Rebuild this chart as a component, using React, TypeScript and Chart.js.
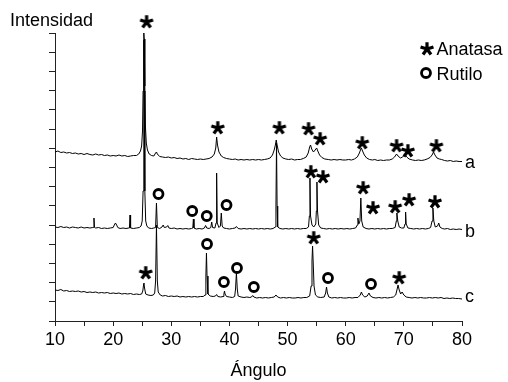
import { useEffect, useRef } from 'react';
import { Chart, registerables } from 'chart.js';

Chart.register(...registerables);

const FONT = '"Liberation Sans", Arial, Helvetica, sans-serif';

// Diffraction traces: [2θ (deg), intensity (a.u.)]
const traceA: [number, number][] = [
  [10, 169], [10.5, 170], [11, 168.5], [11.5, 169], [12, 168], [12.5, 168.5], [13, 167.5], [13.5, 168],
  [14, 167], [14.5, 167.5], [15, 166.5], [15.5, 167.5], [16, 166.5], [16.5, 166], [17, 167], [17.5, 166],
  [18, 166.5], [18.5, 165.5], [19, 166], [19.5, 165], [20, 165.5], [20.5, 165], [21, 166], [21.5, 165],
  [22, 165.5], [22.5, 164.5], [23, 165], [23.5, 165.5], [24, 165.5], [24.4, 167], [24.7, 170], [24.9, 175],
  [25.05, 190], [25.15, 230], [25.25, 280], [25.3, 288], [25.35, 282], [25.45, 235], [25.55, 195], [25.7, 178],
  [25.9, 171], [26.2, 167], [26.6, 165.5], [27.0, 165], [27.3, 168], [27.45, 169], [27.6, 167], [28.0, 164.5],
  [28.5, 164], [29, 163.5], [29.5, 164], [30, 163], [30.5, 163.5], [31, 162.5], [31.5, 163], [32, 162],
  [32.5, 162.5], [33, 161.5], [33.5, 162.5], [34, 162], [34.5, 161.5], [35, 162], [35.5, 161.5], [36, 162],
  [36.5, 162.5], [37.0, 164], [37.4, 167], [37.65, 173], [37.8, 184], [37.95, 176], [38.2, 169], [38.6, 165],
  [39.0, 163.5], [39.5, 162.5], [40, 162], [40.5, 161.5], [41, 162], [41.5, 161], [42, 161.5], [42.5, 161],
  [43, 161.5], [43.5, 161], [44, 161.5], [44.5, 161], [45, 161.5], [45.5, 161], [46, 161.5], [46.5, 162],
  [47, 163], [47.4, 166], [47.7, 171], [47.9, 176], [48.05, 181], [48.2, 176], [48.45, 169], [48.8, 165],
  [49.2, 163], [49.7, 162], [50.2, 161.5], [50.7, 162], [51.2, 161], [51.7, 161.5], [52.2, 161.5], [52.7, 162.5],
  [53.2, 164], [53.55, 168], [53.8, 174], [53.95, 176], [54.15, 172], [54.45, 169], [54.75, 171], [55.0, 173],
  [55.2, 170], [55.5, 166], [55.9, 163.5], [56.4, 162], [57, 161.5], [57.5, 161], [58, 161.5], [58.5, 161],
  [59, 161.5], [59.5, 161], [60, 161], [60.5, 161.5], [61, 161], [61.5, 162], [62.0, 164], [62.35, 168],
  [62.6, 172], [62.7, 173], [62.9, 170], [63.2, 166], [63.6, 163], [64.1, 161.5], [64.6, 161], [65, 161.5],
  [65.5, 160.5], [66, 161], [66.5, 160.5], [67, 161], [67.5, 161], [68, 162], [68.4, 164], [68.75, 167],
  [69.0, 165], [69.4, 163], [69.8, 164], [70.15, 166.5], [70.5, 164], [70.9, 162], [71.5, 161], [72, 160.5],
  [72.5, 161], [73, 160.5], [73.5, 161], [74, 162], [74.5, 163.5], [74.85, 166], [75.1, 169], [75.35, 166],
  [75.7, 163], [76.1, 162], [76.5, 161.5], [77, 160.5], [77.5, 160], [78, 160.5], [78.5, 159.5], [79, 160],
  [79.5, 159.5], [80, 159.5],
];

const traceB: [number, number][] = [
  [10, 94], [10.5, 93.5], [11, 94.5], [11.5, 93.5], [12, 94], [12.5, 93], [13, 94], [13.5, 93.5],
  [14, 93], [14.5, 94], [15, 93], [15.5, 93.5], [16, 93], [16.5, 93.5], [16.6, 93.5], [16.7, 103],
  [16.8, 93.5], [17, 93], [17.5, 93.5], [18, 92.5], [18.5, 93], [19, 92.5], [19.5, 93], [20, 93.5],
  [20.2, 96], [20.4, 98], [20.6, 96], [20.8, 93.5], [21.2, 92.5], [21.7, 93], [22.2, 92.5], [22.7, 93],
  [22.8, 93], [22.9, 106], [23.0, 93], [23.5, 92.5], [24, 93], [24.5, 93.5], [24.8, 95], [25.0, 100],
  [25.15, 130], [25.25, 230], [25.3, 281], [25.35, 230], [25.45, 130], [25.6, 100], [25.8, 95], [26.1, 93],
  [26.6, 92.5], [27.0, 93], [27.3, 93.5], [27.45, 118], [27.6, 93.5], [28.0, 92.5], [28.4, 94], [28.6, 96],
  [28.8, 93.5], [29.2, 94], [29.4, 95.5], [29.6, 93], [30, 92.5], [30.5, 93], [31, 92], [31.5, 92.5],
  [32, 92], [32.5, 92.5], [33, 92], [33.5, 92.5], [33.7, 93], [33.8, 102], [33.9, 93], [34.3, 92],
  [34.8, 92.5], [35.3, 92], [35.7, 93], [35.9, 95.5], [36.1, 93], [36.5, 92.5], [36.8, 93.5], [36.95, 99],
  [37.1, 93.5], [37.5, 93], [37.7, 98], [37.8, 148], [37.9, 98], [38.2, 93.5], [38.45, 95], [38.6, 108],
  [38.75, 95], [39.0, 93], [39.5, 92.5], [40, 92], [40.5, 92.5], [41, 93], [41.2, 94.5], [41.5, 92.5],
  [42, 92], [42.5, 92.5], [43, 92], [43.5, 92.5], [44, 92], [44.5, 92.5], [45, 92], [45.5, 92.5],
  [46, 92], [46.5, 92.5], [47, 92], [47.5, 92.5], [47.9, 94], [48.0, 115], [48.1, 178], [48.2, 115],
  [48.3, 94], [48.7, 92.5], [49.2, 92], [49.7, 92.5], [50.2, 92], [50.7, 92.5], [51.2, 92], [51.7, 92.5],
  [52.2, 92], [52.7, 92.5], [53.2, 92.5], [53.6, 94], [53.75, 105], [53.85, 143], [53.95, 105], [54.2, 96],
  [54.5, 94], [54.85, 97], [54.95, 110], [55.05, 139], [55.15, 110], [55.35, 96], [55.7, 93], [56.2, 92.5],
  [56.7, 92], [57.2, 92.5], [57.7, 92], [58.2, 92.5], [58.7, 92], [59.2, 92.5], [59.7, 92], [60.2, 92.5],
  [60.7, 92], [61.2, 92.5], [61.7, 93], [62.0, 96], [62.1, 103], [62.25, 97], [62.45, 100], [62.6, 123],
  [62.75, 100], [63.0, 94], [63.5, 92.5], [64, 92], [64.5, 92.5], [65, 92], [65.5, 92.5], [66, 92],
  [66.5, 92.5], [67, 92], [67.5, 92.5], [68, 92.5], [68.5, 93.5], [68.7, 100], [68.8, 108], [68.95, 100],
  [69.2, 94], [69.6, 93], [70.0, 93], [70.2, 97], [70.3, 109], [70.4, 97], [70.7, 93], [71.2, 92.5],
  [71.7, 92], [72.2, 92.5], [72.7, 92], [73.2, 92.5], [73.7, 92], [74.2, 92.5], [74.6, 93.5], [74.85, 100],
  [75.0, 113], [75.15, 100], [75.4, 94], [75.8, 95], [76.0, 98], [76.2, 94], [76.6, 92.5], [77, 92],
  [77.5, 92.5], [78, 91.5], [78.5, 92], [79, 91.5], [79.5, 92], [80, 91.5],
];

const traceC: [number, number][] = [
  [10, 31], [10.5, 30.5], [11, 31.5], [11.5, 30], [12, 30.5], [12.5, 29.5], [13, 30], [13.5, 29.5],
  [14, 30], [14.5, 29], [15, 29.5], [15.5, 28.5], [16, 29], [16.5, 28.5], [17, 29], [17.5, 28],
  [18, 28.5], [18.5, 28], [19, 28.5], [19.5, 27.5], [20, 28], [20.5, 27.5], [21, 28], [21.5, 27],
  [22, 27.5], [22.5, 27], [23, 27.5], [23.5, 26.5], [24, 27], [24.5, 26.5], [24.9, 27], [25.1, 30],
  [25.25, 37], [25.3, 38], [25.4, 33], [25.6, 27], [26, 26], [26.5, 25.5], [26.9, 26], [27.15, 28],
  [27.3, 40], [27.45, 96], [27.6, 40], [27.75, 29], [28.1, 26], [28.5, 25], [29, 25.5], [29.5, 24.5],
  [30, 25], [30.5, 24.5], [31, 25], [31.5, 24], [32, 24.5], [32.5, 24], [33, 24.5], [33.5, 24],
  [34, 24.5], [34.5, 24], [35, 24.5], [35.5, 24.5], [35.8, 26], [35.95, 45], [36.05, 68], [36.15, 45],
  [36.3, 27], [36.7, 25], [37.2, 24.5], [37.6, 25], [37.8, 26.5], [38.0, 24.5], [38.5, 24], [38.9, 24.5],
  [39.05, 27], [39.15, 30], [39.25, 27], [39.5, 24.5], [40, 24], [40.5, 23.5], [40.9, 24.5], [41.05, 32],
  [41.2, 48], [41.35, 32], [41.5, 25], [42, 24], [42.5, 23.5], [43, 24], [43.5, 23.5], [43.8, 24],
  [44.0, 25.5], [44.2, 24], [44.7, 23], [45.2, 23.5], [45.7, 23], [46.2, 23.5], [46.7, 23], [47.2, 23.5],
  [47.7, 24], [48.0, 26], [48.3, 24], [48.8, 23], [49.3, 23.5], [49.8, 23], [50.3, 23.5], [50.8, 23],
  [51.3, 23], [51.8, 23.5], [52.3, 23], [52.8, 23.5], [53.3, 23.5], [53.8, 25], [54.05, 35], [54.2, 60],
  [54.3, 75], [54.4, 60], [54.55, 35], [54.8, 26], [55.2, 24], [55.7, 23.5], [56.3, 24], [56.55, 28],
  [56.7, 34], [56.85, 28], [57.1, 24], [57.6, 23], [58.1, 23.5], [58.6, 23], [59.1, 23.5], [59.6, 23],
  [60.1, 23], [60.6, 23.5], [61.1, 23], [61.6, 23.5], [62.1, 23.5], [62.5, 26], [62.7, 29], [62.9, 26],
  [63.3, 24], [63.7, 25], [64.0, 28], [64.25, 25], [64.7, 23.5], [65.2, 23], [65.7, 23.5], [66.2, 23],
  [66.7, 23.5], [67.2, 23], [67.7, 23.5], [68.2, 24], [68.6, 26], [68.85, 32], [69.0, 36], [69.2, 31],
  [69.45, 27], [69.7, 29], [70.0, 26], [70.4, 24], [70.9, 23.5], [71.4, 23], [71.9, 23.5], [72.4, 23],
  [72.9, 23.5], [73.4, 23], [73.9, 23], [74.4, 23.5], [74.9, 23], [75.4, 23.5], [75.9, 23], [76.4, 23.5],
  [76.9, 22.5], [77.4, 23], [77.9, 22.5], [78.4, 23], [78.9, 22.5], [79.4, 22.5], [80, 22],
];

// Phase markers
const anataseX = [25.75, 38.0, 48.6, 53.6, 55.6, 62.85, 68.75, 70.7, 75.6, 54.0, 56.1, 63.0, 64.7, 68.5, 70.9, 75.35, 25.6, 54.5, 69.2];
const anataseY = [299, 193, 193, 192, 182, 178, 175, 170, 175, 149, 144, 133, 113, 114, 121, 119, 48, 83, 43];
const rutiloX = [27.8, 33.6, 36.1, 39.5, 36.15, 39.05, 41.3, 44.2, 56.95, 64.35];
const rutiloY = [127, 110, 105, 116, 77, 39, 53, 34, 43, 37];

const sampleLabels = ['a', 'b', 'c'];
const sampleLabelLevels = [153, 84, 19];
const legendLabels = ['Anatasa', 'Rutilo'];
const yTickCount = 16;
const yTickStep = 19.2;

function drawAsterisk(ctx: CanvasRenderingContext2D, cx: number, cy: number, r: number, w: number) {
  ctx.save();
  ctx.strokeStyle = '#000';
  ctx.lineWidth = w;
  ctx.lineCap = 'butt';
  ctx.beginPath();
  for (let i = 0; i < 5; i++) {
    const a = (-90 + i * 72) * Math.PI / 180;
    ctx.moveTo(cx, cy);
    ctx.lineTo(cx + r * Math.cos(a), cy + r * Math.sin(a));
  }
  ctx.stroke();
  ctx.restore();
}

const toXY = (arr: [number, number][]) => arr.map(([x, y]) => ({ x, y }));

export default function App() {
  const ref = useRef<HTMLCanvasElement>(null);

  useEffect(() => {
    if (!ref.current) return;
    const star = document.createElement('canvas');
    star.width = 16;
    star.height = 16;
    drawAsterisk(star.getContext('2d')!, 8, 8, 6.8, 3.2);

    let savedArea: any = null;
    const markerArea = {
      id: 'markerArea',
      beforeDatasetDraw(chart: any, args: any) {
        if (args.index > 1) return;
        savedArea = chart.chartArea;
        chart.chartArea = { ...savedArea, top: 0, bottom: chart.height, left: 0, right: chart.width };
      },
      afterDatasetDraw(chart: any, args: any) {
        if (args.index > 1 || !savedArea) return;
        chart.chartArea = savedArea;
        savedArea = null;
      },
    };

    const annotations = {
      id: 'annotations',
      afterDatasetsDraw(chart: any) {
        const { ctx, scales } = chart;
        const xs = scales.x;
        const ys = scales.y;
        ctx.save();
        ctx.fillStyle = '#000';
        ctx.font = `18px ${FONT}`;
        ctx.textAlign = 'left';
        ctx.textBaseline = 'alphabetic';
        sampleLabels.forEach((t, i) => {
          ctx.fillText(t, xs.getPixelForValue(80) + 3, ys.getPixelForValue(sampleLabelLevels[i]));
        });
        ctx.fillText('Intensidad', 10, 26);
        // legend
        drawAsterisk(ctx, 427, 49, 6.8, 3.2);
        ctx.fillText(legendLabels[0], 436.5, 55);
        ctx.beginPath();
        ctx.lineWidth = 2.8;
        ctx.strokeStyle = '#000';
        ctx.arc(426, 73, 4.5, 0, Math.PI * 2);
        ctx.stroke();
        ctx.fillText(legendLabels[1], 436.5, 80);
        ctx.restore();
      },
    };

    const chart = new Chart(ref.current, {
      type: 'scatter',
      data: {
        datasets: [
          {
            label: 'Anatasa',
            data: anataseX.map((x, i) => ({ x, y: anataseY[i] })),
            pointStyle: star as any,
            pointRadius: 8,
            showLine: false,
            clip: false as any,
          },
          {
            label: 'Rutilo',
            data: rutiloX.map((x, i) => ({ x, y: rutiloY[i] })),
            pointStyle: 'circle',
            pointRadius: 4.5,
            pointBorderWidth: 2.8,
            pointBorderColor: '#000',
            pointBackgroundColor: 'rgba(0,0,0,0)',
            showLine: false,
            clip: false as any,
          },
          { label: 'a', data: toXY(traceA), showLine: true, borderColor: '#000', borderWidth: 1, pointRadius: 0, clip: false as any },
          { label: 'b', data: toXY(traceB), showLine: true, borderColor: '#000', borderWidth: 1, pointRadius: 0, clip: false as any },
          { label: 'c', data: toXY(traceC), showLine: true, borderColor: '#000', borderWidth: 1, pointRadius: 0, clip: false as any },
        ],
      },
      options: {
        responsive: false,
        animation: false,
        events: [],
        layout: { padding: { top: 33, right: 46, left: 0, bottom: 0 } },
        plugins: { legend: { display: false }, tooltip: { enabled: false }, title: { display: false } },
        scales: {
          x: {
            type: 'linear',
            min: 10,
            max: 80,
            ticks: {
              stepSize: 5,
              autoSkip: false,
              maxRotation: 0,
              padding: 3,
              color: '#000',
              font: { family: FONT, size: 18 },
              callback: (v: any) => (Number(v) % 10 === 0 ? String(v) : ''),
            },
            grid: { drawOnChartArea: false, drawTicks: true, tickLength: 5, color: '#222', tickWidth: 1 },
            border: { display: true, color: '#222', width: 1 },
            title: { display: true, text: 'Ángulo', color: '#000', font: { family: FONT, size: 18 }, padding: { top: 0, bottom: 0 } },
            afterFit: (s: any) => { s.height = 61; },
          },
          y: {
            type: 'linear',
            min: 0,
            max: 288,
            afterBuildTicks: (s: any) => {
              s.ticks = Array.from({ length: yTickCount }, (_, i) => ({ value: i * yTickStep }));
            },
            ticks: { display: false },
            grid: { drawOnChartArea: false, drawTicks: true, tickLength: 6, color: '#222', tickWidth: 1 },
            border: { display: true, color: '#222', width: 1 },
            afterFit: (s: any) => { s.width = 55; },
          },
        },
      },
      plugins: [markerArea, annotations],
    });
    return () => chart.destroy();
  }, []);

  return (
    <div style={{ position: 'absolute', left: 0, top: 0, width: 508, height: 382, background: '#fff' }}>
      <canvas ref={ref} width={508} height={382} style={{ display: 'block' }} />
    </div>
  );
}
